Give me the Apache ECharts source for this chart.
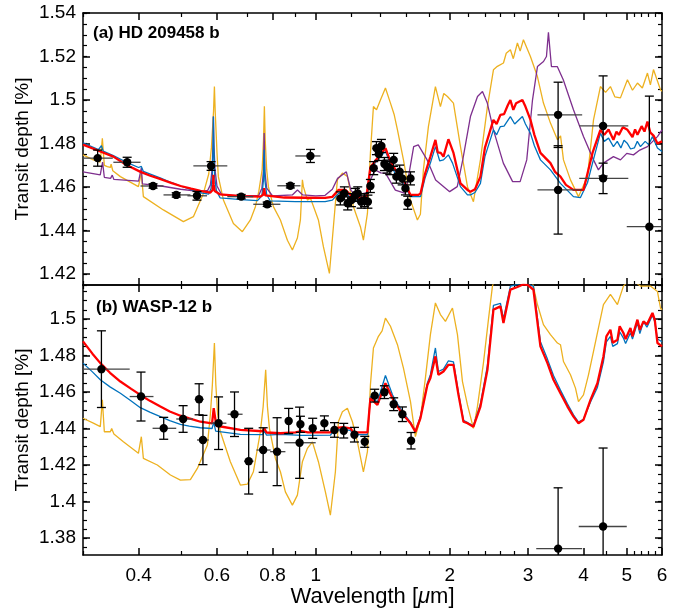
<!DOCTYPE html>
<html>
<head>
<meta charset="utf-8">
<script src="https://cdn.jsdelivr.net/npm/echarts@6/dist/echarts.min.js"></script>
<style>
  html, body { margin: 0; padding: 0; background: #fff; }
  #chart { width: 689px; height: 608px; }
</style>
</head>
<body>
<div id="chart"></div>
<script>
// tick positions
const xMajor = [0.4, 0.6, 0.8, 1, 2, 3, 4, 5, 6];
const xMinor = [0.3, 0.5, 0.7, 0.9, 1.2, 1.4, 1.6, 1.8, 2.2, 2.4, 2.6, 2.8, 3.5, 4.5, 5.2, 5.4, 5.6, 5.8];
const yMajorA = [1.42, 1.44, 1.46, 1.48, 1.5, 1.52, 1.54];
const yMajorB = [1.38, 1.4, 1.42, 1.44, 1.46, 1.48, 1.5];

// (a) HD 209458 b models: [wavelength um, transit depth %]
const orangeA = [[0.3,1.4748],[0.3165,1.4725],[0.328,1.4715],[0.3316,1.4824],[0.335,1.470],[0.3403,1.4694],[0.3456,1.469],[0.347,1.4705],[0.35,1.4675],[0.364,1.4648],[0.3996,1.4602],[0.4057,1.4664],[0.41,1.4556],[0.4547,1.4495],[0.5043,1.4441],[0.5311,1.4464],[0.5594,1.4571],[0.575,1.466],[0.583,1.478],[0.5895,1.495],[0.5921,1.5062],[0.5945,1.495],[0.6,1.476],[0.6043,1.4648],[0.6203,1.4541],[0.6532,1.4433],[0.6843,1.4395],[0.7133,1.4449],[0.732,1.451],[0.745,1.458],[0.758,1.468],[0.7635,1.482],[0.7668,1.4971],[0.77,1.482],[0.776,1.468],[0.7829,1.4602],[0.8035,1.451],[0.8331,1.4449],[0.8638,1.4356],[0.8863,1.4311],[0.9096,1.4366],[0.9239,1.4449],[0.9335,1.4633],[0.9384,1.4602],[0.9579,1.454],[0.973,1.455],[1.0141,1.4449],[1.0406,1.4326],[1.0735,1.4203],[1.0959,1.4418],[1.1188,1.4633],[1.1482,1.4664],[1.1782,1.4649],[1.2155,1.451],[1.2603,1.4418],[1.28,1.4356],[1.3069,1.4479],[1.3273,1.4756],[1.3481,1.497],[1.37,1.4955],[1.3979,1.50],[1.4346,1.5055],[1.4723,1.4986],[1.5,1.4935],[1.5266,1.4863],[1.5747,1.4725],[1.633,1.454],[1.6924,1.4449],[1.719,1.4475],[1.7458,1.4679],[1.7917,1.4878],[1.8578,1.5062],[1.9066,1.497],[1.94,1.503],[1.9771,1.5016],[2.0396,1.4986],[2.115,1.4786],[2.193,1.4602],[2.2616,1.4533],[2.345,1.4725],[2.4316,1.497],[2.5084,1.5139],[2.56,1.5155],[2.6418,1.517],[2.68,1.5215],[2.7384,1.5231],[2.78,1.519],[2.8396,1.5262],[2.88,1.5225],[2.9293,1.5277],[3.0374,1.52],[3.1495,1.5108],[3.249,1.4986],[3.369,1.4894],[3.4935,1.4817],[3.55,1.4835],[3.6036,1.4725],[3.7367,1.4633],[3.8946,1.4556],[4.0803,1.4648],[4.2096,1.4909],[4.363,1.5062],[4.48,1.5035],[4.5947,1.5062],[4.7,1.5015],[4.8387,1.501],[5.0176,1.5093],[5.15,1.5045],[5.2843,1.5078],[5.42,1.5055],[5.5652,1.5124],[5.65,1.507],[5.7409,1.514],[5.9531,1.5047],[6.0,1.504]];
const purpleA = [[0.3,1.467],[0.328,1.4656],[0.330,1.4665],[0.332,1.4715],[0.335,1.4645],[0.346,1.464],[0.349,1.4655],[0.352,1.4635],[0.40,1.4627],[0.404,1.4628],[0.4057,1.4688],[0.408,1.4615],[0.45,1.4605],[0.497,1.459],[0.551,1.4579],[0.572,1.4585],[0.58,1.461],[0.585,1.468],[0.588,1.48],[0.589,1.4924],[0.5905,1.48],[0.594,1.468],[0.6,1.4605],[0.615,1.4565],[0.68,1.4559],[0.745,1.4562],[0.757,1.4595],[0.763,1.467],[0.766,1.4848],[0.769,1.467],[0.776,1.4595],[0.80,1.4559],[0.886,1.4564],[0.91,1.4587],[0.935,1.4564],[1.0,1.456],[1.05,1.4562],[1.09,1.459],[1.12,1.464],[1.172,1.467],[1.20,1.4585],[1.228,1.4564],[1.28,1.4571],[1.307,1.4575],[1.327,1.4633],[1.36,1.4679],[1.40,1.4665],[1.435,1.4664],[1.51,1.4586],[1.59,1.4571],[1.62,1.466],[1.66,1.4786],[1.70,1.4794],[1.78,1.4725],[1.86,1.4633],[2.0,1.4579],[2.08,1.4602],[2.14,1.4725],[2.227,1.4924],[2.31,1.5016],[2.37,1.5039],[2.43,1.4986],[2.508,1.4863],[2.64,1.471],[2.77,1.4625],[2.88,1.4625],[2.98,1.4725],[3.07,1.50],[3.15,1.5154],[3.25,1.5177],[3.30,1.520],[3.334,1.5311],[3.386,1.5154],[3.49,1.5154],[3.60,1.5093],[3.795,1.4955],[3.997,1.4832],[4.21,1.4725],[4.318,1.4679],[4.43,1.471],[4.667,1.474],[4.84,1.4725],[5.0,1.4755],[5.176,1.4748],[5.35,1.477],[5.565,1.4786],[5.861,1.4832],[6.0,1.4863]];
const blueA = [[0.3,1.4803],[0.325,1.4772],[0.330,1.4790],[0.333,1.4765],[0.351,1.4745],[0.375,1.4715],[0.40,1.469],[0.4057,1.4695],[0.41,1.4672],[0.425,1.466],[0.45,1.464],[0.475,1.462],[0.497,1.4605],[0.525,1.4588],[0.551,1.4574],[0.575,1.4568],[0.582,1.4595],[0.586,1.466],[0.588,1.478],[0.589,1.4924],[0.5905,1.478],[0.593,1.4645],[0.598,1.4585],[0.61,1.455],[0.68,1.4542],[0.74,1.4538],[0.757,1.456],[0.763,1.463],[0.766,1.4771],[0.769,1.463],[0.776,1.4565],[0.79,1.4537],[0.9,1.4533],[1.05,1.4533],[1.09,1.454],[1.125,1.4571],[1.166,1.4575],[1.21,1.454],[1.26,1.4533],[1.30,1.4535],[1.327,1.4679],[1.38,1.473],[1.435,1.4763],[1.47,1.471],[1.51,1.466],[1.575,1.4617],[1.633,1.4556],[1.72,1.4556],[1.76,1.464],[1.81,1.471],[1.858,1.4786],[1.90,1.472],[1.937,1.4725],[1.987,1.4748],[2.03,1.471],[2.115,1.4602],[2.193,1.4564],[2.227,1.4564],[2.28,1.4575],[2.345,1.4617],[2.40,1.474],[2.508,1.4863],[2.55,1.484],[2.60,1.4878],[2.65,1.488],[2.738,1.4924],[2.80,1.489],[2.914,1.4924],[2.96,1.489],[3.037,1.4848],[3.1,1.479],[3.199,1.4725],[3.369,1.4679],[3.548,1.4617],[3.795,1.4556],[3.935,1.4552],[4.08,1.462],[4.188,1.471],[4.363,1.4848],[4.45,1.481],[4.55,1.4825],[4.667,1.4786],[4.76,1.481],[4.85,1.478],[4.93,1.4815],[5.018,1.480],[5.1,1.4775],[5.2,1.478],[5.28,1.481],[5.367,1.4786],[5.5,1.481],[5.6,1.4795],[5.711,1.4832],[5.86,1.478],[6.0,1.4763]];
const redA = [[0.3,1.4795],[0.325,1.4767],[0.351,1.474],[0.375,1.4703],[0.404,1.467],[0.425,1.4652],[0.45,1.4635],[0.475,1.4618],[0.497,1.4605],[0.525,1.4593],[0.551,1.4583],[0.58,1.4575],[0.586,1.4585],[0.588,1.461],[0.589,1.4656],[0.590,1.461],[0.593,1.4582],[0.61,1.4566],[0.68,1.4558],[0.751,1.4556],[0.762,1.4565],[0.766,1.4595],[0.770,1.4562],[0.85,1.4552],[0.95,1.4551],[1.05,1.455],[1.09,1.4555],[1.125,1.4587],[1.166,1.4587],[1.21,1.4555],[1.26,1.455],[1.3,1.4556],[1.327,1.469],[1.36,1.472],[1.435,1.4779],[1.47,1.472],[1.51,1.468],[1.575,1.4633],[1.633,1.4564],[1.70,1.4564],[1.72,1.457],[1.76,1.466],[1.81,1.474],[1.858,1.4817],[1.88,1.476],[1.91,1.4757],[1.937,1.474],[1.987,1.482],[2.04,1.4757],[2.115,1.4617],[2.193,1.4587],[2.227,1.4579],[2.28,1.459],[2.345,1.4648],[2.4,1.478],[2.508,1.4909],[2.55,1.489],[2.60,1.4932],[2.65,1.4935],[2.70,1.4975],[2.738,1.50],[2.78,1.4955],[2.82,1.4985],[2.914,1.50],[2.96,1.497],[3.037,1.491],[3.1,1.484],[3.199,1.4757],[3.369,1.471],[3.45,1.467],[3.548,1.4648],[3.65,1.461],[3.795,1.4587],[3.997,1.4587],[4.1,1.468],[4.188,1.4757],[4.363,1.4863],[4.45,1.484],[4.55,1.4865],[4.667,1.4817],[4.74,1.4855],[4.8,1.484],[4.9,1.4875],[5.018,1.4863],[5.15,1.483],[5.22,1.4865],[5.284,1.484],[5.4,1.488],[5.48,1.4855],[5.565,1.4901],[5.65,1.485],[5.75,1.4835],[5.861,1.480],[6.0,1.481]];

// (a) observations: [wavelength, depth, bin low, bin high, depth error]
const hdPoints = [[0.3236,1.4733,0.300,0.350,0.0037],[0.377,1.4714,0.351,0.404,0.0023],[0.431,1.4605,0.404,0.455,0.001],[0.486,1.4564,0.455,0.523,0.001],[0.541,1.456,0.515,0.57,0.002],[0.582,1.4697,0.531,0.633,0.002],[0.68,1.4556,0.633,0.724,0.001],[0.778,1.4521,0.724,0.833,0.001],[0.877,1.4606,0.82,0.924,0.001],[0.973,1.4743,0.9,1.025,0.003],[3.505,1.4932,3.15,3.97,0.015],[3.505,1.4587,3.15,3.97,0.0203],[4.424,1.4881,3.91,5.04,0.023],[4.424,1.464,3.91,5.04,0.007],[5.62,1.4418,5.0,6.3,0.06]];
// (a) WFC3 points: [wavelength, depth]
const hdWfc3 = [[1.136,1.4548],[1.16,1.4571],[1.18,1.4525],[1.203,1.454],[1.228,1.4564],[1.243,1.4571],[1.265,1.4533],[1.287,1.454],[1.31,1.4533],[1.327,1.4605],[1.35,1.4687],[1.369,1.4779],[1.386,1.4752],[1.405,1.4789],[1.427,1.4706],[1.447,1.4694],[1.467,1.4687],[1.497,1.4725],[1.518,1.4648],[1.544,1.4671],[1.564,1.464],[1.591,1.4594],[1.61,1.4528],[1.633,1.464]];
const wfc3Err = 0.003;

// (b) WASP-12 b models
const orangeB = [[0.3,1.4456],[0.3165,1.4429],[0.3281,1.441],[0.3316,1.4557],[0.335,1.4382],[0.3456,1.4382],[0.348,1.440],[0.352,1.437],[0.3697,1.4327],[0.3996,1.4264],[0.4057,1.4355],[0.41,1.4236],[0.4407,1.42],[0.4716,1.4145],[0.4966,1.4117],[0.5229,1.412],[0.5421,1.4181],[0.571,1.4309],[0.58,1.448],[0.5859,1.4639],[0.5921,1.4868],[0.5965,1.464],[0.602,1.448],[0.6107,1.4382],[0.643,1.4218],[0.6773,1.409],[0.7023,1.4095],[0.7244,1.4163],[0.7511,1.4382],[0.762,1.452],[0.772,1.4721],[0.779,1.452],[0.787,1.4401],[0.8119,1.4236],[0.8331,1.4163],[0.8548,1.4053],[0.8863,1.398],[0.9096,1.4035],[0.9335,1.4218],[0.9579,1.4291],[0.9831,1.4327],[1.0141,1.4218],[1.0514,1.4053],[1.0789,1.3925],[1.1073,1.4163],[1.1246,1.4437],[1.1482,1.4492],[1.1782,1.4511],[1.2092,1.4437],[1.2409,1.4327],[1.28,1.4163],[1.3069,1.4273],[1.3273,1.4639],[1.3481,1.4841],[1.3835,1.4905],[1.41,1.4935],[1.4346,1.5005],[1.4723,1.496],[1.5266,1.4859],[1.5747,1.4731],[1.633,1.4547],[1.6749,1.4355],[1.719,1.4456],[1.764,1.4676],[1.8103,1.4914],[1.8578,1.5088],[1.9066,1.5024],[1.9567,1.4987],[2.029,1.506],[2.0823,1.4914],[2.137,1.4657],[2.193,1.4529],[2.2616,1.4401],[2.309,1.452],[2.3817,1.4758],[2.4442,1.4996],[2.4954,1.518],[2.55,1.525],[2.7,1.53],[3.0,1.53],[3.0374,1.525],[3.1495,1.5079],[3.249,1.4969],[3.369,1.4914],[3.4935,1.4868],[3.548,1.4859],[3.6036,1.4767],[3.7367,1.4694],[3.8346,1.4621],[3.8946,1.4547],[3.9967,1.4584],[4.1017,1.4694],[4.2096,1.4822],[4.3179,1.495],[4.4313,1.5079],[4.5947,1.5134],[4.7643,1.5079],[4.9146,1.518],[5.0963,1.522],[5.3671,1.518],[5.6523,1.518],[5.8611,1.515],[5.9531,1.506],[6.0,1.505]];
const blueB = [[0.3,1.4758],[0.315,1.471],[0.3281,1.4667],[0.345,1.4628],[0.364,1.4593],[0.385,1.4551],[0.4036,1.4514],[0.425,1.4488],[0.4477,1.4465],[0.47,1.4443],[0.4966,1.4423],[0.52,1.4413],[0.5507,1.4404],[0.585,1.440],[0.59,1.4435],[0.596,1.4386],[0.6773,1.4368],[0.76,1.4366],[0.767,1.4385],[0.775,1.4364],[0.8331,1.4368],[0.93,1.4362],[1.08,1.4364],[1.0959,1.4388],[1.15,1.4395],[1.1967,1.439],[1.2155,1.4366],[1.3069,1.4366],[1.3273,1.4575],[1.3763,1.4545],[1.4346,1.469],[1.4876,1.4585],[1.5266,1.4535],[1.5747,1.4485],[1.633,1.4435],[1.6749,1.4385],[1.719,1.4465],[1.7824,1.465],[1.8103,1.4695],[1.8578,1.4841],[1.8868,1.4712],[1.9366,1.4725],[1.9874,1.4771],[2.0396,1.4765],[2.0932,1.4595],[2.1481,1.4445],[2.193,1.4432],[2.2616,1.4415],[2.345,1.4535],[2.4316,1.4745],[2.5084,1.5075],[2.6012,1.5085],[2.6418,1.5],[2.7384,1.518],[2.8396,1.519],[2.93,1.5195],[3.0,1.519],[3.0851,1.518],[3.1987,1.4875],[3.3171,1.478],[3.4219,1.469],[3.548,1.461],[3.679,1.4535],[3.7951,1.4475],[3.8946,1.4435],[3.9967,1.445],[4.1445,1.4545],[4.2954,1.4625],[4.4313,1.4765],[4.5,1.4875],[4.5947,1.4905],[4.65,1.485],[4.7643,1.4865],[4.82,1.493],[4.9146,1.4895],[4.97,1.4865],[5.0963,1.4925],[5.15,1.489],[5.2843,1.498],[5.35,1.492],[5.4512,1.4985],[5.55,1.4955],[5.7111,1.502],[5.78,1.4985],[5.8611,1.489],[6.0,1.4875]];
const redB = [[0.3,1.4877],[0.315,1.481],[0.3281,1.4758],[0.345,1.4705],[0.364,1.4657],[0.385,1.4617],[0.4036,1.4584],[0.425,1.455],[0.4477,1.452],[0.47,1.4493],[0.4966,1.447],[0.52,1.4455],[0.5507,1.4437],[0.585,1.4428],[0.59,1.4511],[0.598,1.4415],[0.6773,1.4392],[0.76,1.4385],[0.767,1.440],[0.775,1.4378],[0.8331,1.4374],[0.9,1.4379],[0.93,1.4385],[0.96,1.4379],[1.08,1.4379],[1.0959,1.4401],[1.15,1.4408],[1.1967,1.4401],[1.2155,1.4379],[1.3069,1.4379],[1.3273,1.4566],[1.3763,1.4529],[1.4346,1.4648],[1.4876,1.4566],[1.5266,1.452],[1.5747,1.4474],[1.633,1.4429],[1.6749,1.4382],[1.719,1.4456],[1.7824,1.4639],[1.8103,1.4676],[1.8578,1.4795],[1.8868,1.4694],[1.9366,1.4712],[1.9874,1.4749],[2.0396,1.4749],[2.0932,1.4584],[2.1481,1.4437],[2.193,1.4429],[2.2616,1.441],[2.345,1.452],[2.4316,1.4721],[2.5084,1.5051],[2.6012,1.5069],[2.6418,1.4978],[2.7384,1.5161],[2.8396,1.5175],[2.93,1.519],[3.0,1.5185],[3.0851,1.516],[3.1987,1.485],[3.3171,1.4758],[3.4219,1.4667],[3.548,1.4593],[3.679,1.452],[3.7951,1.4465],[3.8946,1.4429],[3.9967,1.4447],[4.1445,1.4557],[4.2954,1.4648],[4.4313,1.4795],[4.5,1.4905],[4.5947,1.4941],[4.65,1.487],[4.7643,1.4886],[4.82,1.496],[4.9146,1.4923],[4.97,1.489],[5.0963,1.495],[5.15,1.4905],[5.2843,1.4996],[5.35,1.494],[5.4512,1.4987],[5.55,1.497],[5.7111,1.5033],[5.78,1.4995],[5.8611,1.4868],[6.0,1.485]];

// (b) observations: [wavelength, depth, bin low, bin high, depth error]
const waspPoints = [[0.33,1.4725,0.30,0.382,0.021],[0.405,1.4575,0.382,0.432,0.0134],[0.4555,1.4401,0.43,0.486,0.006],[0.5036,1.4452,0.486,0.53,0.0073],[0.547,1.456,0.535,0.56,0.0085],[0.558,1.4337,0.541,0.575,0.0135],[0.605,1.4429,0.58,0.63,0.0144],[0.657,1.4478,0.634,0.685,0.0122],[0.707,1.4221,0.69,0.725,0.018],[0.762,1.4282,0.736,0.792,0.0122],[0.819,1.4273,0.79,0.855,0.0186],[0.8695,1.4441,0.855,0.885,0.0069],[0.924,1.4423,0.91,0.94,0.0044],[0.92,1.4322,0.85,1.0,0.0195],[0.9846,1.4401,0.97,1.0,0.0055],[1.046,1.4429,1.03,1.06,0.004],[1.102,1.4392,1.09,1.115,0.004],[1.156,1.4388,1.145,1.167,0.004],[1.222,1.4366,1.2,1.245,0.004],[1.289,1.4327,1.27,1.31,0.003],[1.357,1.458,1.34,1.375,0.0035],[1.427,1.4599,1.41,1.445,0.0035],[1.497,1.4533,1.48,1.515,0.0035],[1.566,1.4478,1.55,1.585,0.004],[1.638,1.4333,1.62,1.655,0.0045],[3.505,1.3742,3.13,3.97,0.0333],[4.424,1.3863,3.9,5.0,0.043]];

const FONT = 'Liberation Sans';
const hdAll = hdPoints.concat(hdWfc3.map(p => [p[0], p[1], p[0] - 0.009, p[0] + 0.009, wfc3Err]));

function errorBarItem(params, api) {
  const x = api.value(0), y = api.value(1), e = api.value(4);
  const c = api.coord([x, y]);
  const l = api.coord([api.value(2), y]);
  const r = api.coord([api.value(3), y]);
  const t = api.coord([x, y + e]);
  const b = api.coord([x, y - e]);
  const cap = 4.5;
  const st = {stroke: '#000', lineWidth: 1.3};
  return {
    type: 'group',
    children: [
      {type: 'line', shape: {x1: l[0], y1: c[1], x2: r[0], y2: c[1]}, style: {stroke: '#444', lineWidth: 1.3}},
      {type: 'line', shape: {x1: c[0], y1: t[1], x2: c[0], y2: b[1]}, style: st},
      {type: 'line', shape: {x1: c[0] - cap, y1: t[1], x2: c[0] + cap, y2: t[1]}, style: st},
      {type: 'line', shape: {x1: c[0] - cap, y1: b[1], x2: c[0] + cap, y2: b[1]}, style: st},
      {type: 'circle', shape: {cx: c[0], cy: c[1], r: 4.2}, style: {fill: '#000'}},
    ],
  };
}

const axisLineStyle = {color: '#000', width: 1.5};

function makeXAxes(gridIndex, withLabels) {
  const base = {
    type: 'log', logBase: 10, min: 0.3, max: 6, gridIndex: gridIndex,
    axisLine: {onZero: false, lineStyle: axisLineStyle},
    splitLine: {show: false},
    axisLabel: {show: false},
  };
  const major = {inside: true, length: 7, customValues: xMajor, lineStyle: axisLineStyle};
  const minor = {inside: true, length: 4, customValues: xMinor, lineStyle: {color: '#000', width: 1.2}};
  const bottom = Object.assign({}, base, {position: 'bottom', axisTick: major});
  if (withLabels) {
    bottom.axisLabel = {
      show: true, customValues: xMajor, margin: 11,
      color: '#000', fontSize: 19, fontFamily: FONT,
      formatter: v => String(+(+v).toFixed(2)),
    };
    bottom.name = 'Wavelength [{it|μ}m]';
    bottom.nameLocation = 'middle';
    bottom.nameGap = 31;
    bottom.nameMoveOverlap = false;
    bottom.nameTextStyle = {
      color: '#000', fontSize: 22, fontFamily: FONT,
      rich: {it: {fontStyle: 'italic', fontSize: 22, fontFamily: FONT, color: '#000'}},
    };
  }
  return [
    bottom,
    Object.assign({}, base, {position: 'top', axisTick: major}),
    Object.assign({}, base, {position: 'bottom', axisLine: {show: false}, axisTick: minor}),
    Object.assign({}, base, {position: 'top', axisLine: {show: false}, axisTick: minor}),
  ];
}

function makeYAxes(gridIndex, min, max, major, minorVals) {
  const base = {
    type: 'value', min: min, max: max, gridIndex: gridIndex,
    axisLine: {onZero: false, lineStyle: axisLineStyle},
    splitLine: {show: false},
    axisLabel: {show: false},
  };
  const majorTick = {inside: true, length: 7, customValues: major, lineStyle: axisLineStyle};
  const minorTick = {inside: true, length: 4, customValues: minorVals, lineStyle: {color: '#000', width: 1.2}};
  return [
    Object.assign({}, base, {
      position: 'left', axisTick: majorTick,
      axisLabel: {
        show: true, customValues: major, margin: 7,
        color: '#000', fontSize: 19, fontFamily: FONT,
        formatter: v => String(+(+v).toFixed(3)),
      },
      name: 'Transit depth [%]', nameLocation: 'middle', nameGap: 51, nameMoveOverlap: false,
      nameTextStyle: {color: '#000', fontSize: 19, fontFamily: FONT},
    }),
    Object.assign({}, base, {position: 'right', axisTick: majorTick}),
    Object.assign({}, base, {position: 'left', axisLine: {show: false}, axisTick: minorTick}),
    Object.assign({}, base, {position: 'right', axisLine: {show: false}, axisTick: minorTick}),
  ];
}

function steps(from, to, step) {
  const out = [];
  for (let v = from; v <= to + 1e-9; v += step) out.push(+v.toFixed(4));
  return out;
}

function modelLine(data, color, width, xi, yi, z) {
  return {
    type: 'line', data: data, xAxisIndex: xi, yAxisIndex: yi,
    showSymbol: false, symbol: 'none', clip: true, z: z,
    lineStyle: {color: color, width: width},
    animation: false,
  };
}

const chart = echarts.init(document.getElementById('chart'), null, {renderer: 'canvas'});
chart.setOption({
  animation: false,
  backgroundColor: '#fff',
  textStyle: {fontFamily: FONT},
  title: [
    {text: '(a) HD 209458 b', left: 93, top: 25, padding: 0, textStyle: {fontSize: 17, fontWeight: 'bold', color: '#000', fontFamily: FONT}},
    {text: '(b) WASP-12 b', left: 96, top: 299, padding: 0, textStyle: {fontSize: 17, fontWeight: 'bold', color: '#000', fontFamily: FONT}},
  ],
  grid: [
    {left: 83, right: 27, top: 13, height: 272, outerBoundsMode: 'none', containLabel: false},
    {left: 83, right: 27, top: 285, height: 270, outerBoundsMode: 'none', containLabel: false},
  ],
  xAxis: makeXAxes(0, false).concat(makeXAxes(1, true)),
  yAxis: makeYAxes(0, 1.415, 1.54, yMajorA, steps(1.415, 1.54, 0.005))
    .concat(makeYAxes(1, 1.3707, 1.5186, yMajorB, steps(1.375, 1.515, 0.005))),
  series: [
    modelLine(orangeA, '#EDB120', 1.3, 0, 0, 2),
    modelLine(purpleA, '#7E2F8E', 1.3, 0, 0, 3),
    modelLine(blueA, '#0072BD', 1.3, 0, 0, 4),
    modelLine(redA, '#FF0000', 2.3, 0, 0, 5),
    {
      type: 'custom', xAxisIndex: 0, yAxisIndex: 0, data: hdAll,
      encode: {x: 0, y: 1}, renderItem: errorBarItem, clip: true, z: 10,
    },
    modelLine(orangeB, '#EDB120', 1.3, 4, 4, 2),
    modelLine(blueB, '#0072BD', 1.3, 4, 4, 4),
    modelLine(redB, '#FF0000', 2.3, 4, 4, 5),
    {
      type: 'custom', xAxisIndex: 4, yAxisIndex: 4, data: waspPoints,
      encode: {x: 0, y: 1}, renderItem: errorBarItem, clip: true, z: 10,
    },
  ],
});
</script>
</body>
</html>
